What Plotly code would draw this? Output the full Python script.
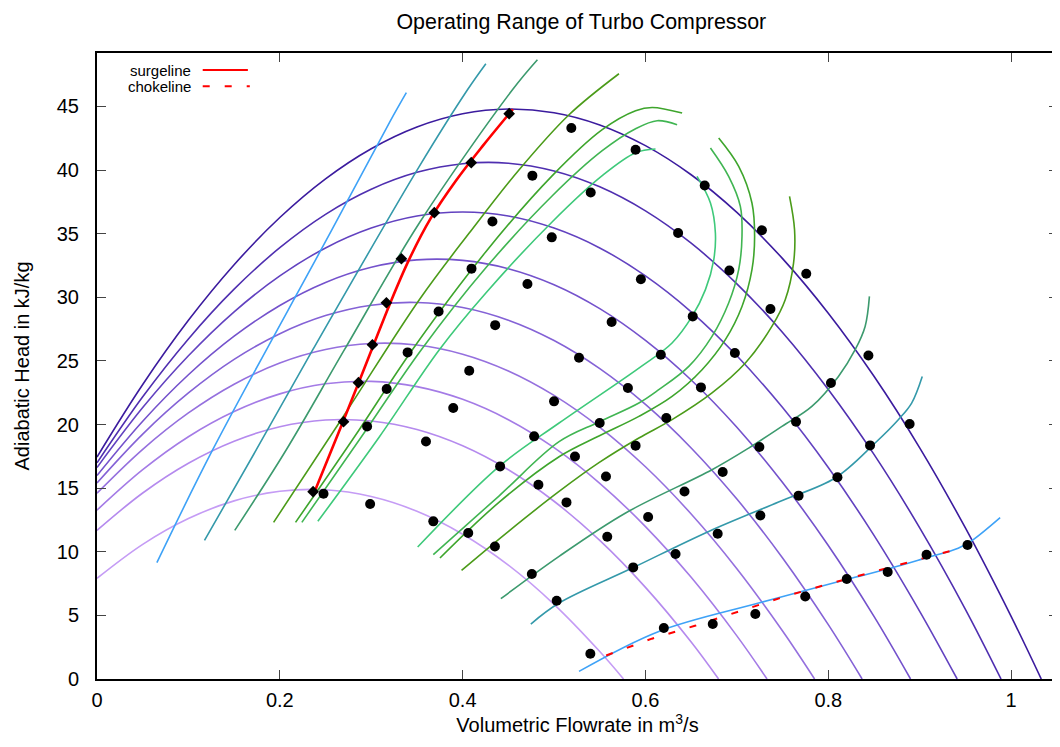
import plotly.graph_objects as go

# ---------------- speed lines (volumetric flow q in m3/s, head h in kJ/kg) ----------------
n1_q = [0.00, 0.05, 0.10, 0.15, 0.20, 0.25, 0.30, 0.35, 0.40, 0.45, 0.50, 0.55, 0.576]
n1_h = [7.91, 10.58, 12.61, 14.00, 14.75, 14.87, 14.34, 13.18, 11.38, 8.95, 5.87, 2.16, 0.0]
n2_q = [0.00, 0.05, 0.10, 0.15, 0.20, 0.25, 0.30, 0.35, 0.40, 0.45, 0.50, 0.55, 0.60, 0.65, 0.680]
n2_h = [11.68, 14.62, 16.96, 18.69, 19.83, 20.36, 20.28, 19.61, 18.33, 16.45, 13.97, 10.89, 7.20, 2.91, 0.0]
n3_q = [0.00, 0.05, 0.10, 0.15, 0.20, 0.25, 0.30, 0.35, 0.40, 0.45, 0.50, 0.55, 0.60, 0.65, 0.70, 0.733]
n3_h = [13.27, 16.45, 19.04, 21.02, 22.41, 23.20, 23.39, 22.98, 21.98, 20.38, 18.18, 15.38, 11.98, 7.99, 3.39, 0.0]
n4_q = [0.00, 0.05, 0.10, 0.15, 0.20, 0.25, 0.30, 0.35, 0.40, 0.45, 0.50, 0.55, 0.60, 0.65, 0.70, 0.75, 0.785]
n4_h = [14.60, 18.05, 20.91, 23.17, 24.84, 25.90, 26.37, 26.25, 25.53, 24.21, 22.29, 19.78, 16.68, 12.97, 8.67, 3.77, 0.0]
n5_q = [0.00, 0.05, 0.10, 0.15, 0.20, 0.25, 0.30, 0.35, 0.40, 0.45, 0.50, 0.55, 0.60, 0.65, 0.70, 0.75, 0.80, 0.837]
n5_h = [15.41, 19.25, 22.48, 25.12, 27.14, 28.56, 29.38, 29.59, 29.20, 28.20, 26.60, 24.39, 21.58, 18.16, 14.14, 9.51, 4.27, 0.0]
n6_q = [0.00, 0.05, 0.10, 0.15, 0.20, 0.25, 0.30, 0.35, 0.40, 0.45, 0.50, 0.55, 0.60, 0.65, 0.70, 0.75, 0.80, 0.85, 0.890]
n6_h = [15.99, 20.26, 23.91, 26.94, 29.36, 31.17, 32.36, 32.94, 32.90, 32.25, 30.99, 29.11, 26.61, 23.50, 19.78, 15.44, 10.49, 4.92, 0.0]
n7_q = [0.00, 0.05, 0.10, 0.15, 0.20, 0.25, 0.30, 0.35, 0.40, 0.45, 0.50, 0.55, 0.60, 0.65, 0.70, 0.75, 0.80, 0.85, 0.90, 0.941]
n7_h = [16.62, 21.33, 25.40, 28.86, 31.68, 33.88, 35.44, 36.39, 36.70, 36.39, 35.44, 33.88, 31.68, 28.86, 25.40, 21.33, 16.62, 11.29, 5.32, 0.0]
n8_q = [0.00, 0.05, 0.10, 0.15, 0.20, 0.25, 0.30, 0.35, 0.40, 0.45, 0.50, 0.55, 0.60, 0.65, 0.70, 0.75, 0.80, 0.85, 0.90, 0.95, 0.989]
n8_h = [16.99, 22.18, 26.73, 30.64, 33.90, 36.52, 38.49, 39.82, 40.50, 40.54, 39.93, 38.68, 36.79, 34.25, 31.06, 27.24, 22.76, 17.65, 11.88, 5.48, 0.0]
n9_q = [0.00, 0.05, 0.10, 0.15, 0.20, 0.25, 0.30, 0.35, 0.40, 0.45, 0.50, 0.55, 0.60, 0.65, 0.70, 0.75, 0.80, 0.85, 0.90, 0.95, 1.00, 1.033]
n9_h = [17.45, 23.15, 28.19, 32.56, 36.27, 39.31, 41.68, 43.39, 44.43, 44.80, 44.51, 43.55, 41.92, 39.63, 36.67, 33.04, 28.75, 23.79, 18.17, 11.87, 4.92, 0.0]

speed_colors = ['#c59cf5', '#b58aee', '#a47be6', '#9570de', '#8462d6',
                '#7452cc', '#6242c0', '#4f2fb0', '#3b1b9e']

# ---------------- efficiency iso-lines: left (low flow) legs ----------------
left1_q = [0.0655, 0.1266, 0.2511, 0.3199, 0.3384]
left1_h = [9.14, 18.02, 34.53, 43.73, 46.08]
left2_q = [0.1176, 0.1743, 0.2361, 0.3526, 0.4053, 0.4254]
left2_h = [10.89, 18.02, 25.88, 40.29, 46.31, 48.36]
left3_q = [0.1507, 0.2071, 0.2707, 0.3526, 0.4545, 0.4818]
left3_h = [11.68, 18.02, 25.88, 35.84, 46.31, 48.67]
left4_q = [0.1932, 0.2707, 0.3526, 0.4072, 0.4618, 0.5164, 0.5710]
left4_h = [12.31, 20.77, 29.81, 35.05, 40.03, 44.35, 47.57]
left5_q = [0.2172, 0.2817, 0.3450, 0.4254, 0.4981, 0.5527, 0.5892, 0.6073, 0.6401]
left5_h = [12.31, 19.04, 25.88, 33.58, 39.56, 43.17, 44.66, 44.92, 44.48]
left6_q = [0.2241, 0.2893, 0.3548, 0.4254, 0.4981, 0.5527, 0.5892, 0.6128, 0.6346]
left6_h = [12.31, 19.04, 25.88, 32.32, 37.98, 41.52, 43.25, 43.88, 43.56]
left7_q = [0.2416, 0.3090, 0.3745, 0.4254, 0.4981, 0.5527, 0.5892, 0.6110]
left7_h = [12.39, 19.04, 25.88, 30.34, 35.94, 39.56, 41.36, 41.65]

# ---------------- efficiency iso-lines: right (high flow) legs ----------------
right1_q = [0.5273, 0.6146, 0.7238, 0.8188, 0.8690, 0.9061, 0.9421, 0.9566, 0.9880]
right1_h = [0.60, 3.74, 5.97, 7.80, 8.72, 9.50, 10.28, 10.85, 12.68]
right2_q = [0.4746, 0.5055, 0.5855, 0.6692, 0.7456, 0.8075, 0.8512, 0.8766, 0.8912, 0.9028]
right2_h = [4.32, 5.97, 8.72, 11.60, 13.91, 15.80, 18.55, 20.38, 21.69, 23.78]
right3_q = [0.4418, 0.5055, 0.5783, 0.6728, 0.7129, 0.7493, 0.7820, 0.8111, 0.8294, 0.8403, 0.8450]
right3_h = [6.31, 9.64, 13.05, 16.45, 18.15, 19.85, 21.42, 23.78, 25.88, 27.71, 30.07]
right4_q = [0.3988, 0.4509, 0.5055, 0.5491, 0.5928, 0.6291, 0.6728, 0.7093, 0.7383, 0.7529, 0.7620, 0.7631, 0.7576]
right4_h = [8.54, 11.65, 14.74, 17.00, 18.94, 20.38, 22.48, 24.83, 27.71, 29.81, 32.69, 35.31, 37.93]
right5_q = [0.3752, 0.4400, 0.5055, 0.5491, 0.5928, 0.6291, 0.6619, 0.6874, 0.7056, 0.7165, 0.7194, 0.7165, 0.7020, 0.6801]
right5_h = [9.51, 13.90, 17.47, 19.10, 20.64, 22.21, 24.31, 26.67, 29.28, 32.17, 34.78, 37.41, 40.29, 42.52]
right6_q = [0.3679, 0.4400, 0.5055, 0.5491, 0.5928, 0.6146, 0.6474, 0.6728, 0.6910, 0.7020, 0.7056, 0.7038, 0.6910, 0.6711]
right6_h = [9.77, 14.40, 18.65, 20.20, 21.69, 22.74, 24.57, 26.93, 29.55, 32.17, 34.78, 37.14, 39.50, 41.73]
right7_q = [0.3508, 0.4400, 0.5055, 0.5928, 0.6291, 0.6510, 0.6656, 0.6747, 0.6765, 0.6711, 0.6564]
right7_h = [10.37, 16.71, 20.12, 24.44, 26.41, 28.50, 30.60, 32.95, 35.05, 37.41, 39.50]

eff_colors = ['#3ea2f7', '#3499aa', '#3c9a6e', '#4b9b19', '#3ea52c', '#40b552', '#3ec97a']

# ---------------- surge and choke lines ----------------
surge_pts_q = [0.2364, 0.2697, 0.2860, 0.3013, 0.3166, 0.3330, 0.3690, 0.4094, 0.4509]
surge_pts_h = [14.72, 20.22, 23.29, 26.27, 29.57, 33.03, 36.65, 40.58, 44.43]
surge_fit_q = [0.2380, 0.2690, 0.2860, 0.3025, 0.3205, 0.3410, 0.3650, 0.3930, 0.4220, 0.4509, 0.4550]
surge_fit_h = [14.72, 20.20, 23.25, 26.25, 29.50, 32.90, 36.20, 39.20, 41.90, 44.43, 44.78]
choke_q = [0.557, 0.607, 0.655, 0.704, 0.753, 0.802, 0.849, 0.901, 0.951]
choke_h = [1.85, 3.17, 4.20, 5.37, 6.50, 7.50, 8.43, 9.45, 10.40]

# ---------------- measured operating points ----------------
meas_q = [0.5189, 0.5892, 0.4763, 0.5401, 0.6648, 0.4326, 0.4975, 0.6357, 0.7274, 0.4097,
          0.5950, 0.6918, 0.4709, 0.7759, 0.7367, 0.3737, 0.4356, 0.5630, 0.6517, 0.5273,
          0.6168, 0.6978, 0.8439, 0.3398, 0.4072, 0.3169, 0.3897, 0.5000, 0.5808, 0.6607,
          0.8029, 0.2955, 0.3599, 0.4782, 0.5499, 0.6228, 0.7647, 0.8890, 0.5892, 0.7246,
          0.8457, 0.2478, 0.2988, 0.4410, 0.5229, 0.4829, 0.5568, 0.6845, 0.8100, 0.5136,
          0.6427, 0.7675, 0.3679, 0.4061, 0.4353, 0.6029, 0.7257, 0.5582, 0.6790, 0.6329,
          0.4757, 0.5866, 0.5029, 0.6201, 0.5397, 0.6736, 0.7202, 0.7748, 0.8202, 0.8650,
          0.9075, 0.9523]
meas_h = [43.30, 41.60, 39.56, 38.24, 38.79, 35.96, 34.71, 35.05, 35.27, 32.25,
          31.42, 32.11, 31.04, 31.85, 29.08, 28.89, 27.81, 28.06, 28.50, 25.25,
          25.49, 25.62, 25.43, 25.67, 24.23, 22.79, 21.30, 21.82, 22.87, 22.92,
          23.26, 19.85, 18.67, 19.07, 20.12, 20.51, 20.22, 20.04, 18.34, 18.24,
          18.36, 14.56, 13.75, 16.71, 17.49, 15.27, 15.92, 16.27, 15.86, 13.88,
          14.74, 14.41, 12.39, 11.47, 10.42, 12.73, 12.85, 11.18, 11.42, 9.82,
          8.25, 8.77, 6.15, 4.01, 1.99, 4.32, 5.11, 6.49, 7.86, 8.41,
          9.77, 10.53]

x_ticks = [0, 0.2, 0.4, 0.6, 0.8, 1.0]
x_tick_text = ['0', '0.2', '0.4', '0.6', '0.8', '1']
y_ticks = [0, 5, 10, 15, 20, 25, 30, 35, 40, 45]

FONT = 'Liberation Sans, Arial, Helvetica, sans-serif'

fig = go.Figure()

speed_lines = [(n1_q, n1_h), (n2_q, n2_h), (n3_q, n3_h), (n4_q, n4_h), (n5_q, n5_h),
               (n6_q, n6_h), (n7_q, n7_h), (n8_q, n8_h), (n9_q, n9_h)]
for (q, h), c in zip(speed_lines, speed_colors):
    fig.add_trace(go.Scatter(x=q, y=h, mode='lines', line=dict(color=c, width=1.6, shape='spline'),
                             showlegend=False, hoverinfo='skip'))

left_legs = [(left1_q, left1_h), (left2_q, left2_h), (left3_q, left3_h), (left4_q, left4_h),
             (left5_q, left5_h), (left6_q, left6_h), (left7_q, left7_h)]
right_legs = [(right1_q, right1_h), (right2_q, right2_h), (right3_q, right3_h), (right4_q, right4_h),
              (right5_q, right5_h), (right6_q, right6_h), (right7_q, right7_h)]
for legs in (left_legs, right_legs):
    for (q, h), c in zip(legs, eff_colors):
        fig.add_trace(go.Scatter(x=q, y=h, mode='lines', line=dict(color=c, width=1.6, shape='spline'),
                                 showlegend=False, hoverinfo='skip'))

fig.add_trace(go.Scatter(x=choke_q, y=choke_h, mode='lines', name='chokeline',
                         line=dict(color='#ff0000', width=2, dash='7px,15px'), showlegend=False))
fig.add_trace(go.Scatter(x=surge_fit_q, y=surge_fit_h, mode='lines', name='surgeline',
                         line=dict(color='#ff0000', width=2.6, shape='spline'), showlegend=False))
fig.add_trace(go.Scatter(x=meas_q, y=meas_h, mode='markers',
                         marker=dict(color='black', size=10, symbol='circle'), showlegend=False))
fig.add_trace(go.Scatter(x=surge_pts_q, y=surge_pts_h, mode='markers',
                         marker=dict(color='black', size=9, symbol='diamond'), showlegend=False))

# gnuplot-style key (text, then line sample) in the upper left corner
fig.add_annotation(x=0.0997, y=0.9728, xref='paper', yref='paper', text='surgeline', showarrow=False,
                   xanchor='right', yanchor='middle', font=dict(family=FONT, size=15, color='black'))
fig.add_annotation(x=0.0997, y=0.947, xref='paper', yref='paper', text='chokeline', showarrow=False,
                   xanchor='right', yanchor='middle', font=dict(family=FONT, size=15, color='black'))
fig.add_shape(type='line', xref='paper', yref='paper', x0=0.110, x1=0.157, y0=0.9728, y1=0.9728,
              line=dict(color='#ff0000', width=2))
fig.add_shape(type='line', xref='paper', yref='paper', x0=0.110, x1=0.159, y0=0.947, y1=0.947,
              line=dict(color='#ff0000', width=2, dash='7px,15px'))

axis_common = dict(showgrid=False, zeroline=False, showline=True, linecolor='black', linewidth=2,
                   mirror='ticks', ticks='inside', ticklen=9, tickwidth=1, tickcolor='#444',
                   tickfont=dict(family=FONT, size=20, color='black'))

# the page body adds an 8px offset, so the figure is sized 8px smaller than the window
fig.update_layout(
    width=1052, height=739,
    margin=dict(l=89, r=0, t=45, b=68),
    paper_bgcolor='white', plot_bgcolor='white',
    font=dict(family=FONT, size=20, color='black'),
    title=dict(text='Operating Range of Turbo Compressor', x=0.504, xref='paper', xanchor='center',
               y=0.9815, yref='container', yanchor='middle', font=dict(family=FONT, size=21.4, color='black')),
    xaxis=dict(range=[0, 1.0513], tickvals=x_ticks, ticktext=x_tick_text, ticklabelstandoff=2,
               title=dict(text='Volumetric Flowrate in m<sup>3</sup>/s', standoff=6,
                          font=dict(family=FONT, size=20)), **axis_common),
    yaxis=dict(range=[0, 49.2], tickvals=y_ticks, ticklabelstandoff=12,
               title=dict(text='Adiabatic Head in kJ/kg', standoff=22,
                          font=dict(family=FONT, size=20)), **axis_common),
)

fig.write_html('out.html')
